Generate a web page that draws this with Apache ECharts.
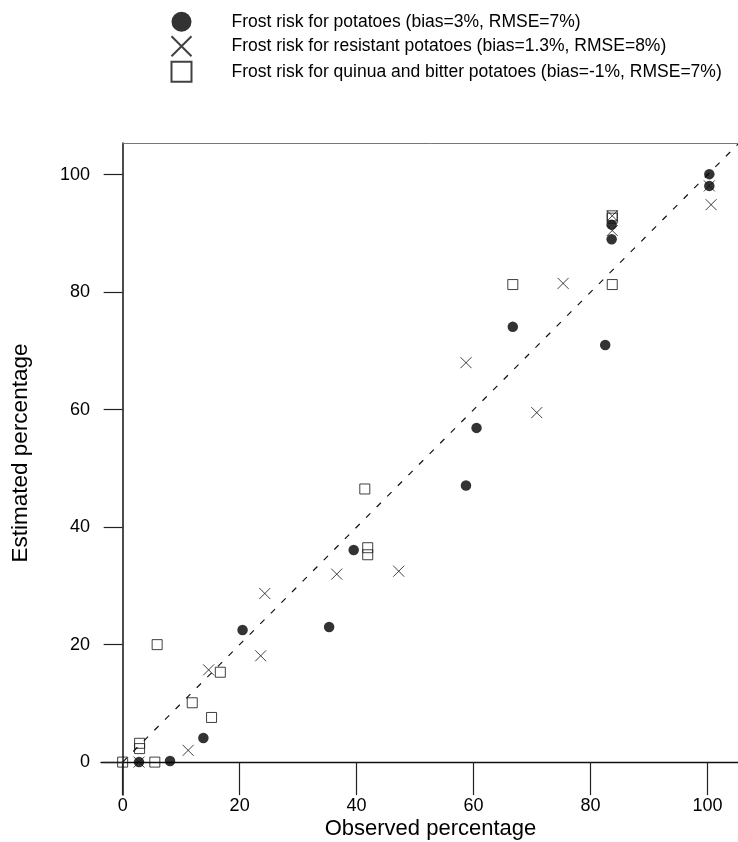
<!DOCTYPE html>
<html>
<head>
<meta charset="utf-8">
<script src="https://cdn.jsdelivr.net/npm/echarts@6/dist/echarts.min.js"></script>
<style>
html,body{margin:0;padding:0;background:#fff;}
#chart{width:738px;height:842px;}
</style>
</head>
<body>
<div id="chart"></div>
<script>
// ---- data ----
const xTicks = [0, 20, 40, 60, 80, 100];
const yTicks = [0, 20, 40, 60, 80, 100];
const seriesNames = [
  'Frost risk for potatoes (bias=3%, RMSE=7%)',
  'Frost risk for resistant potatoes (bias=1.3%, RMSE=8%)',
  'Frost risk for quinua and bitter potatoes (bias=-1%, RMSE=7%)'
];
const potatoes = [
  [2.8, 0], [8.1, 0.2], [13.8, 4.1], [20.5, 22.5], [35.3, 23.0], [39.5, 36.1],
  [58.7, 47.1], [60.5, 56.9], [66.7, 74.1], [82.5, 71.0], [83.6, 89.0],
  [83.6, 91.5], [100.3, 98.1], [100.3, 100.1]
];
const resistant = [
  [2.8, 0], [11.2, 2.0], [14.7, 15.7], [23.6, 18.1], [24.3, 28.7], [36.6, 32.0],
  [47.2, 32.5], [58.7, 68.0], [70.8, 59.5], [75.3, 81.5], [83.7, 93.0],
  [83.7, 90.5], [100.6, 94.9], [100.3, 98.1]
];
const quinua = [
  [0, 0], [2.9, 3.2], [2.9, 2.3], [5.5, 0], [5.9, 20.0], [11.9, 10.1], [15.2, 7.6],
  [16.7, 15.3], [41.4, 46.5], [41.9, 36.5], [41.9, 35.3], [66.7, 81.3],
  [83.7, 81.3], [83.7, 93.0], [83.7, 92.6]
];
const oneToOne = [0, 106];
const xRange = [-3.7, 105.2];
const yRange = [-5.6, 105.4];

const chart = echarts.init(document.getElementById('chart'), null, {renderer: 'canvas'});
const font = '"Liberation Sans", Arial, Helvetica, sans-serif';
const crossPath = 'path://M0,0L10,10M0,10L10,0';

chart.setOption({
  backgroundColor: '#fff',
  animation: false,
  textStyle: {fontFamily: font},
  legend: {
    orient: 'vertical',
    left: 165.5,
    top: 6.7,
    itemWidth: 20,
    itemHeight: 20,
    itemGap: 3.5,
    selectedMode: false,
    data: seriesNames,
    textStyle: {fontFamily: font, fontSize: 17.5, color: '#000', padding: [0, 0, 0, 35]}
  },
  grid: {left: 101, right: 0, top: 143, bottom: 47, containLabel: false, outerBoundsMode: 'none'},
  xAxis: {
    type: 'value',
    min: xRange[0],
    max: xRange[1],
    name: 'Observed percentage',
    nameLocation: 'middle',
    nameGap: 23,
    nameMoveOverlap: false,
    nameTextStyle: {fontFamily: font, fontSize: 22, color: '#000', padding: [0, 0, 0, 22]},
    axisLine: {onZero: true, lineStyle: {color: '#111', width: 1.3}},
    axisTick: {show: true, inside: false, length: 33, customValues: xTicks, lineStyle: {color: '#222', width: 1.2}},
    axisLabel: {customValues: xTicks, margin: 2, fontSize: 18, color: '#000', fontFamily: font},
    splitLine: {show: false}
  },
  yAxis: {
    type: 'value',
    min: yRange[0],
    max: yRange[1],
    name: 'Estimated percentage',
    nameLocation: 'middle',
    nameGap: 69,
    nameMoveOverlap: false,
    nameTextStyle: {fontFamily: font, fontSize: 22.5, color: '#000', padding: [0, 0, 0, 32]},
    axisLine: {onZero: true, lineStyle: {color: '#111', width: 1.5}},
    axisTick: {show: true, inside: false, length: 19, customValues: yTicks, lineStyle: {color: '#222', width: 1.2}},
    axisLabel: {customValues: yTicks, margin: 11, fontSize: 18, color: '#000', fontFamily: font},
    splitLine: {show: false}
  },
  series: [
    {
      name: '1:1',
      type: 'line',
      data: [[oneToOne[0], oneToOne[0]], [oneToOne[1], oneToOne[1]]],
      symbol: 'none',
      lineStyle: {color: '#111', width: 1.2, type: [6, 9]},
      silent: true,
      z: 1,
      markLine: {
        silent: true,
        symbol: 'none',
        label: {show: false},
        lineStyle: {color: '#777', width: 1, type: 'solid'},
        data: [[{coord: [0, yRange[1]]}, {coord: [xRange[1], yRange[1]]}]]
      }
    },
    {
      name: seriesNames[0],
      type: 'scatter',
      data: potatoes,
      symbol: 'circle',
      symbolSize: 10.5,
      itemStyle: {color: '#000'},
      z: 3
    },
    {
      name: seriesNames[1],
      type: 'scatter',
      data: resistant,
      symbol: crossPath,
      symbolSize: 11,
      itemStyle: {color: 'rgba(0,0,0,0)', borderColor: '#111', borderWidth: 1},
      z: 4
    },
    {
      name: seriesNames[2],
      type: 'scatter',
      data: quinua,
      symbol: 'rect',
      symbolSize: 10,
      itemStyle: {color: 'rgba(0,0,0,0)', borderColor: '#111', borderWidth: 1},
      z: 4
    }
  ]
});
</script>
</body>
</html>
